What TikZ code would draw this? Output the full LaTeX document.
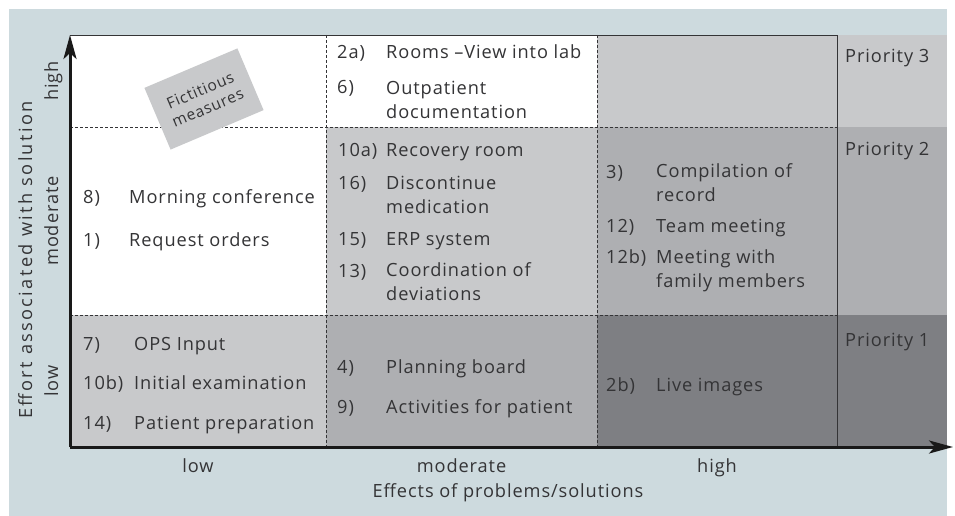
\documentclass[tikz,border=0pt]{standalone}
\usepackage{fontspec}
\setmainfont{Open Sans}[LetterSpace=5.0]
\usetikzlibrary{arrows.meta}
\definecolor{bgblue}{RGB}{205,218,222}
\definecolor{paleg}{RGB}{200,201,203}
\definecolor{midg}{RGB}{174,175,178}
\definecolor{darkg}{RGB}{126,127,131}
\definecolor{ink}{RGB}{52,52,54}
\tikzset{
    item/.style={anchor=base west, inner sep=0pt, align=left, text=ink,
        font=\fontsize{18.2}{23.5}\selectfont},
    scalelabel/.style={anchor=base, inner sep=0pt, text=ink,
        font=\fontsize{18.2}{21}\selectfont},
    sidelabel/.style={scalelabel, rotate=90},
    frame/.style={draw=ink, line width=0.9pt},
    divider/.style={draw=ink, line width=0.9pt, dash pattern=on 3pt off 2pt},
    axis/.style={draw=black!90, line width=3pt, -{Stealth[length=24pt,width=13pt,inset=6pt]}},
    notebox/.style={fill=paleg, rotate=23, minimum width=101pt, minimum height=67pt,
        align=center, text=ink, inner sep=0pt, font=\fontsize{15.5}{19}\selectfont},
}
\begin{document}
\begin{tikzpicture}[x=1pt,y=-1pt]
\useasboundingbox (0,0) rectangle (955,516);
\fill[bgblue] (9,9) rectangle (947,516);
% cells of the matrix
\fill[white] (70,35) rectangle (597,127);
\fill[paleg] (597,35) rectangle (947,127);
\fill[white] (70,127) rectangle (326,315);
\fill[paleg] (326,127) rectangle (597,315);
\fill[midg] (597,127) rectangle (947,315);
\fill[paleg] (70,315) rectangle (326,447);
\fill[midg] (326,315) rectangle (597,447);
\fill[darkg] (597,315) rectangle (947,447);
% grid
\draw[divider] (70,127) -- (837,127);
\draw[divider] (70,315) -- (837,315);
\draw[divider] (326,35) -- (326,447);
\draw[divider] (597,35) -- (597,447);
\draw[frame] (70,35) -- (837,35) -- (837,447);

\node[notebox] (fict) at (204,99) {Fictitious\\measures};

% effort high
\node[item] (n2a) at (337,59) {2a)};
\node[item] (t2a) at (386,59) {Rooms –View into lab};
\node[item] (n6) at (337,94) {6)};
\node[item] (t6) at (386,118) {Outpatient\\documentation};
% effort moderate
\node[item] (n8) at (83,203) {8)};
\node[item] (t8) at (129,203) {Morning conference};
\node[item] (n1) at (83,246) {1)};
\node[item] (t1) at (129,246) {Request orders};
\node[item] (n10a) at (338,156) {10a)};
\node[item] (t10a) at (386,156) {Recovery room};
\node[item] (n16) at (338,189) {16)};
\node[item] (t16) at (386,213) {Discontinue\\medication};
\node[item] (n15) at (338,245) {15)};
\node[item] (t15) at (386,245) {ERP system};
\node[item] (n13) at (338,277) {13)};
\node[item] (t13) at (386,300) {Coordination of\\deviations};
\node[item] (n3) at (606,178) {3)};
\node[item] (t3) at (656,201) {Compilation of\\record};
\node[item] (n12) at (606,232) {12)};
\node[item] (t12) at (656,232) {Team meeting};
\node[item] (n12b) at (606,263) {12b)};
\node[item] (t12b) at (656,287) {Meeting with\\family members};
% effort low
\node[item] (n7) at (83,350) {7)};
\node[item] (t7) at (134,350) {OPS Input};
\node[item] (n10b) at (83,389) {10b)};
\node[item] (t10b) at (134,389) {Initial examination};
\node[item] (n14) at (83,429) {14)};
\node[item] (t14) at (134,429) {Patient preparation};
\node[item] (n4) at (337,373) {4)};
\node[item] (t4) at (386,373) {Planning board};
\node[item] (n9) at (337,413) {9)};
\node[item] (t9) at (386,413) {Activities for patient};
\node[item] (n2b) at (606,391) {2b)};
\node[item] (t2b) at (656,391) {Live images};
% priorities
\node[item] (prio3) at (845,63) {Priority 3};
\node[item] (prio2) at (845,155) {Priority 2};
\node[item] (prio1) at (845,346) {Priority 1};

% axes
\coordinate (origin) at (70,447);
\coordinate (ytip) at (70,35);
\coordinate (xtip) at (953,447);
\draw[axis] (origin) -- (ytip);
\draw[axis] (origin) -- (xtip);
\node[scalelabel] (xlow) at (198,472) {low};
\node[scalelabel] (xmod) at (461.5,472) {moderate};
\node[scalelabel] (xhigh) at (717,472) {high};
\node[scalelabel] (xtitle) at (508,497) {Effects of problems/solutions};
\node[sidelabel] (ylow) at (58,381) {low};
\node[sidelabel] (ymod) at (58,221) {moderate};
\node[sidelabel] (yhigh) at (58,81) {high};
\node[sidelabel, font=\fontsize{18.2}{21}\selectfont\addfontfeatures{LetterSpace=13}]
    (ytitle) at (32,260) {Effort associated with solution};
\end{tikzpicture}
\end{document}
